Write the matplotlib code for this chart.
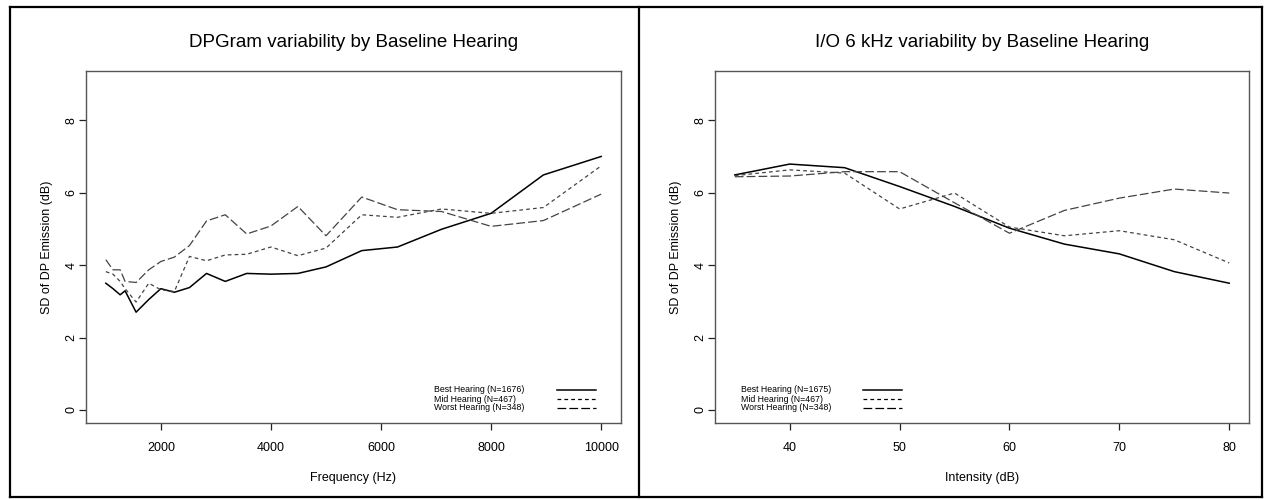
'''
SD of DP emission by baseline hearing group:
DPGram (left) and I/O 6 kHz (right), R-style base plots.
'''

# %% Imports.
import matplotlib
matplotlib.use('Agg')
from matplotlib import pyplot as plt
from matplotlib.lines import Line2D

plt.rcParams['font.family'] = ['Liberation Sans', 'DejaVu Sans']

# %% Data.
# DPGram: frequency (Hz) and SD (dB) per group.
freq = [1000, 1130, 1260, 1350, 1550, 1780, 2000, 2245, 2520, 2830, 3170,
        3560, 4000, 4490, 5000, 5650, 6300, 7100, 8000, 8950, 10000]
dpg_best = [3.50, 3.35, 3.18, 3.29, 2.70, 3.05, 3.35, 3.25, 3.38, 3.77, 3.55,
            3.77, 3.75, 3.77, 3.95, 4.40, 4.50, 4.99, 5.43, 6.49, 7.00]
dpg_mid = [3.82, 3.75, 3.55, 3.35, 2.98, 3.50, 3.32, 3.27, 4.24, 4.12, 4.28,
           4.30, 4.50, 4.26, 4.47, 5.39, 5.32, 5.55, 5.43, 5.59, 6.74]
dpg_worst = [4.15, 3.87, 3.87, 3.55, 3.52, 3.87, 4.10, 4.22, 4.54, 5.22, 5.39,
             4.86, 5.08, 5.62, 4.81, 5.88, 5.53, 5.48, 5.07, 5.23, 5.96]

# I/O 6 kHz: intensity (dB) and SD (dB) per group.
inten = [35, 40, 45, 50, 55, 60, 65, 70, 75, 80]
io_best = [6.49, 6.79, 6.69, 6.17, 5.62, 5.02, 4.58, 4.31, 3.82, 3.50]
io_mid = [6.47, 6.63, 6.54, 5.55, 5.99, 5.05, 4.81, 4.95, 4.70, 4.06]
io_worst = [6.44, 6.46, 6.58, 6.58, 5.72, 4.88, 5.51, 5.85, 6.10, 5.99]

# Labels:
lab_left = ['Best Hearing (N=1676)', 'Mid Hearing (N=467)', 'Worst Hearing (N=348)']
lab_right = ['Best Hearing (N=1675)', 'Mid Hearing (N=467)', 'Worst Hearing (N=348)']
yticks = [0, 2, 4, 6, 8]
xticks_left = [2000, 4000, 6000, 8000, 10000]
xticks_right = [40, 50, 60, 70, 80]

# %% Styles (R lty 1, 2, 5).
styles = [dict(color='black', lw=1.1, ls='-'),
          dict(color='#444444', lw=0.9, ls=(0, (3, 2.5))),
          dict(color='#444444', lw=0.9, ls=(0, (7, 2.5)))]


def r_axes(ax, x, series, labels, title, xlabel, xticks, xlim, leg_x):
    for y, st in zip(series, styles):
        ax.plot(x, y, **st)
    ax.set_xlim(xlim)
    ax.set_ylim(-0.36, 9.36)
    ax.set_xticks(xticks)
    ax.set_yticks(yticks)
    ax.set_yticklabels([str(t) for t in yticks], rotation=90, va='center')
    ax.tick_params(direction='out', length=5, width=0.9, labelsize=9,
                   color='#222222')
    ax.tick_params(axis='x', pad=8.5)
    ax.tick_params(axis='y', pad=1)
    for sp in ax.spines.values():
        sp.set_color('#555555')
        sp.set_linewidth(1.0)
    # Title centred ~29 px above the plot box:
    ax.text(0.5, 1 + 29 / 352, title, transform=ax.transAxes,
            fontsize=13.5, ha='center', va='center')
    ax.set_xlabel(xlabel, fontsize=9, labelpad=13)
    ax.set_ylabel('SD of DP Emission (dB)', fontsize=9, labelpad=9)

    # Legend drawn R-style: text left, line samples right.
    rows_y = [0.094, 0.068, 0.043]
    for lab, st, ry in zip(labels, styles, rows_y):
        ax.text(leg_x[0], ry, lab, transform=ax.transAxes, fontsize=6.3,
                va='center', ha='left')
        st_leg = dict(st)
        st_leg['color'] = 'black'
        ax.add_line(Line2D([leg_x[1], leg_x[2]], [ry, ry],
                           transform=ax.transAxes, **st_leg))


# %% Figure.
fig = plt.figure(figsize=(12.65, 5.0), dpi=100)
ax1 = fig.add_axes([86 / 1265, 77 / 500, 535 / 1265, 352 / 500])
ax2 = fig.add_axes([715 / 1265, 77 / 500, 534 / 1265, 352 / 500])

r_axes(ax1, freq, [dpg_best, dpg_mid, dpg_worst], lab_left,
       'DPGram variability by Baseline Hearing', 'Frequency (Hz)',
       xticks_left, (640, 10360), (0.650, 0.880, 0.953))
r_axes(ax2, inten, [io_best, io_mid, io_worst], lab_right,
       'I/O 6 kHz variability by Baseline Hearing', 'Intensity (dB)',
       xticks_right, (33.2, 81.8), (0.049, 0.277, 0.350))

# Outer frame and divider:
fx0, fx1, fxm = 10 / 1265, 1262 / 1265, 639 / 1265
fy0, fy1 = 3 / 500, 493 / 500
for xs, ys in [([fx0, fx1], [fy1, fy1]), ([fx0, fx1], [fy0, fy0]),
               ([fx0, fx0], [fy0, fy1]), ([fx1, fx1], [fy0, fy1]),
               ([fxm, fxm], [fy0, fy1])]:
    fig.add_artist(Line2D(xs, ys, transform=fig.transFigure,
                          color='black', lw=1.6))

fig.savefig('out.png', dpi=100)
